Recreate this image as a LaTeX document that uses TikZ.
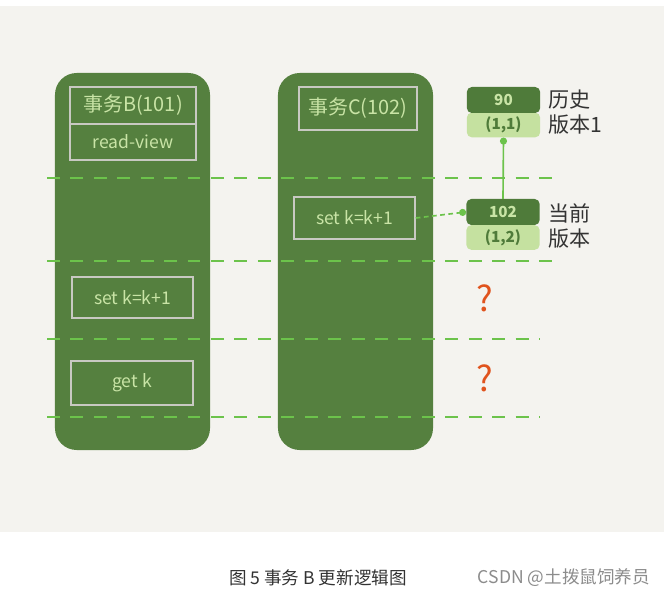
\documentclass[tikz,border=0pt]{standalone}
\usepackage{fontspec}
\setmainfont{Noto Sans CJK SC}
\usetikzlibrary{arrows.meta}

\definecolor{paper}{HTML}{F4F3EF}
\definecolor{txgreen}{HTML}{55803F}
\definecolor{vdark}{HTML}{4F7B3A}
\definecolor{vlight}{HTML}{C5E1A0}
\definecolor{chalk}{HTML}{C9E4A6}
\definecolor{rim}{HTML}{C8C9C2}
\definecolor{lime}{HTML}{6CC34B}
\definecolor{qmark}{HTML}{E0531D}

\tikzset{
  block/.style={fill=txgreen, minimum width=4.65cm, minimum height=11.31cm,
    rounded corners=0.65cm, inner sep=0pt},
  opbox/.style={draw=rim, line width=1.3pt, text=chalk, inner sep=0pt,
    font=\fontsize{15}{17}\selectfont},
  ver/.style={fill=vdark, text=chalk, minimum width=2.2cm, minimum height=0.78cm,
    rounded corners=0.15cm, inner sep=0pt, font=\fontsize{13}{15}\selectfont\bfseries},
  verlo/.style={ver, fill=vlight, text=vdark, minimum height=0.74cm},
  sep/.style={lime, line width=1.6pt, dash pattern=on 11pt off 9pt},
  link/.style={lime, line width=1.4pt, -{Circle[length=6pt]}},
  side/.style={anchor=west, align=left, text=black!80,
    font=\fontsize{18}{21}\selectfont},
  ask/.style={text=qmark, font=\fontsize{30}{32}\selectfont}
}

\begin{document}
\begin{tikzpicture}[x=0.03cm, y=-0.03cm]
\useasboundingbox (0,0) rectangle (664,597);
\fill[white] (0,0) rectangle (664,597);
\fill[paper] (0,6) rectangle (664,532);

% the two transactions
\node[block] (txB) at (132.5,261.5) {};
\node[block] (txC) at (355.5,261.5) {};

\node[opbox, minimum width=3.78cm, minimum height=1.11cm,
  font=\fontsize{17}{19}\selectfont] (hdrB) at (133,105.5) {事务B(101)};
\node[opbox, minimum width=3.78cm, minimum height=1.08cm] (rvB) at (133,142) {read-view};
\node[opbox, minimum width=3.54cm, minimum height=1.29cm,
  font=\fontsize{17}{19}\selectfont] (hdrC) at (358,108.5) {事务C(102)};

\node[opbox, minimum width=3.63cm, minimum height=1.26cm] (setC) at (354.5,218) {set k=k+1};
\node[opbox, minimum width=3.63cm, minimum height=1.23cm] (setB) at (132.5,297.5) {set k=k+1};
\node[opbox, minimum width=3.66cm, minimum height=1.32cm] (getB) at (132,383) {get k};

% time steps
\foreach \y/\e in {178/560, 261/555, 339/540, 417/540}
	\draw[sep] (47,\y) -- (\e,\y);

% row versions
\node[verlo] (v11) at (503.5,125) {(1,1)};
\node[ver] (v90) at (503.5,100) {90};
\node[verlo] (v12) at (503,237.5) {(1,2)};
\node[ver] (v102) at (503,212) {102};

\node[side] (lbl1) at (544,112) {历史\\版本1};
\node[side] (lbl2) at (544,226) {当前\\版本};

\draw[link] (v102.north) -- (v11.south);
\draw[link, dash pattern=on 4pt off 3pt] (setC.east) -- (v102.west);

\node[ask] (q1) at (485,298) {?};
\node[ask] (q2) at (485,378) {?};

% caption
\node[text=black!80, font=\fontsize{15}{17}\selectfont] (cap) at (318,578) {图 5 事务 B 更新逻辑图};
\node[text=black!45, font=\fontsize{15}{17}\selectfont] (mark) at (564,578) {CSDN @土拨鼠饲养员};
\end{tikzpicture}
\end{document}
